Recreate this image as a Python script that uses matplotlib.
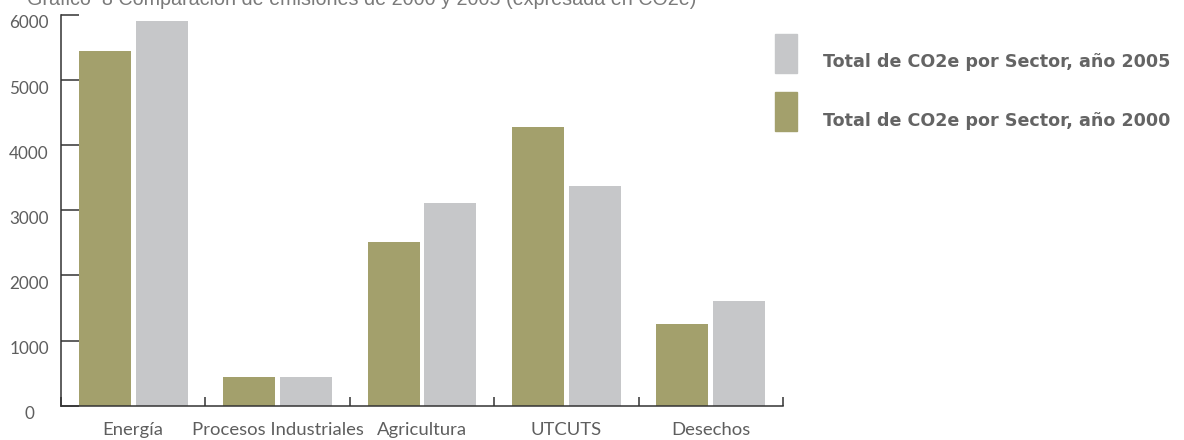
import matplotlib
matplotlib.use('Agg')
import matplotlib.pyplot as plt
import matplotlib.transforms as mtransforms
from matplotlib.patches import Rectangle
import numpy as np

# datos
sectores = ['Energía', 'Procesos Industriales', 'Agricultura', 'UTCUTS', 'Desechos']
co2e_2000 = [5447, 440, 2514, 4280, 1255]
co2e_2005 = [5908, 440, 3113, 3374, 1608]
etiqueta_2005 = 'Total de CO2e por Sector, año 2005'
etiqueta_2000 = 'Total de CO2e por Sector, año 2000'
titulo = 'Gráfico  8 Comparación de emisiones de 2000 y 2005 (expresada en CO2e)'

verde = '#a3a06c'
gris = '#c6c7c9'
texto = '#5e5e5e'
eje = '#333333'

W, H = 1184, 440
fig = plt.figure(figsize=(W / 100, H / 100), dpi=100)
ax = fig.add_axes([61 / W, 1 - 405.7 / H, (783 - 61) / W, (405.7 - 15) / H])

x = np.arange(len(sectores)) + 0.5
ancho = 0.36
ax.bar(x - 0.197, co2e_2000, width=ancho, color=verde, zorder=1)
ax.bar(x + 0.197, co2e_2005, width=ancho, color=gris, zorder=1)

ax.set_xlim(0, len(sectores))
ax.set_ylim(0, 6000)

for s in ['top', 'right']:
    ax.spines[s].set_visible(False)
for s in ['left', 'bottom']:
    ax.spines[s].set_color(eje)
    ax.spines[s].set_linewidth(1.1)
    ax.spines[s].set_zorder(3)

# eje y
ax.set_yticks(range(0, 7000, 1000))
ax.set_yticklabels([str(v) for v in range(0, 7000, 1000)])
ax.tick_params(axis='y', direction='in', length=13, width=1.1, color=eje,
               pad=23, labelsize=12.3, labelcolor=texto)
bajar = mtransforms.ScaledTranslation(0, -7 / 100, fig.dpi_scale_trans)
for t in ax.yaxis.get_major_ticks():
    t.label1.set_horizontalalignment('center')
    t.label1.set_fontfamily('Lato')
    t.label1.set_transform(t.label1.get_transform() + bajar)

# eje x: etiquetas al centro, marcas en los limites
ax.set_xticks(x)
ax.set_xticklabels(sectores, fontfamily='Lato', fontsize=13.3, color=texto)
ax.tick_params(axis='x', which='major', length=0, pad=12)
ax.set_xticks(np.arange(len(sectores) + 1), minor=True)
ax.tick_params(axis='x', which='minor', direction='in', length=6.5, width=1.1, color=eje)

# leyenda manual
fig.patches.append(Rectangle((775 / W, 1 - 73 / H), 22 / W, 39 / H,
                             transform=fig.transFigure, color=gris))
fig.patches.append(Rectangle((775 / W, 1 - 131 / H), 22 / W, 39 / H,
                             transform=fig.transFigure, color=verde))
fig.text(823 / W, 1 - 66.7 / H, etiqueta_2005, fontfamily='DejaVu Sans',
         fontweight='bold', fontsize=12.6, color='#646464', va='baseline')
fig.text(823 / W, 1 - 125.7 / H, etiqueta_2000, fontfamily='DejaVu Sans',
         fontweight='bold', fontsize=12.6, color='#646464', va='baseline')

# titulo (cortado arriba como en la imagen)
fig.text(27 / W, 1 - 5 / H, titulo, fontfamily='Liberation Sans',
         fontsize=14.2, color='#7a7a7a', va='baseline')

fig.savefig('out.png', dpi=100)
